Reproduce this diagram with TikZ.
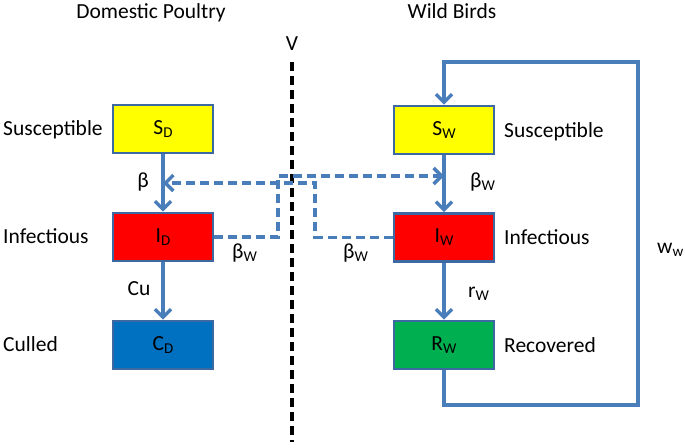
\documentclass[tikz,border=0pt]{standalone}
\usepackage{fontspec}
\setmainfont{Carlito}
\usetikzlibrary{arrows.meta}
\definecolor{lineblue}{HTML}{4A7EBB}
\definecolor{borderblue}{HTML}{3D69A3}
\definecolor{boxyellow}{HTML}{FFFF00}
\definecolor{boxred}{HTML}{FF0000}
\definecolor{boxblue}{HTML}{0070C0}
\definecolor{boxgreen}{HTML}{00B050}
\newcommand\subx[1]{\raisebox{-0.3ex}{\fontsize{15}{15}\selectfont #1}}
\tikzset{
  statebox/.style={draw=borderblue, line width=2.8pt, minimum width=100pt, minimum height=48pt, inner sep=0pt, font=\fontsize{21.5}{25}\selectfont},
  lbl/.style={anchor=base west, inner sep=0pt, font=\fontsize{21.5}{25}\selectfont},
  lblc/.style={anchor=base, inner sep=0pt, font=\fontsize{21.5}{25}\selectfont},
  flow/.style={draw=lineblue, line width=3.4pt, -{Straight Barb[length=8pt,width=16pt,line width=3.4pt]}},
  dflow/.style={draw=lineblue, line width=3.4pt, dash pattern=on 9pt off 5pt, -{Straight Barb[length=8pt,width=16pt,line width=3.4pt]}},
}
\begin{document}
\begin{tikzpicture}[x=1pt,y=-1pt]
\useasboundingbox (0,0) rectangle (685,447);
% headings
\node[lblc] (hdp) at (151,18.5) {Domestic Poultry};
\node[lblc] (hwb) at (452,18.5) {Wild Birds};
\node[lblc] (vlab) at (292,50) {V};
\coordinate (vtop) at (292,62);
\coordinate (vbot) at (292,442);
\draw[line width=3.4pt, dash pattern=on 9pt off 5pt] (vtop) -- (vbot);
% boxes
\node[statebox, fill=boxyellow] (SD) at (163,129) {S\subx{D}};
\node[statebox, fill=boxred] (ID) at (163,237) {I\subx{D}};
\node[statebox, fill=boxblue] (CD) at (163,345) {C\subx{D}};
\node[statebox, fill=boxyellow] (SW) at (444,130) {S\subx{W}};
\node[statebox, fill=boxred] (IW) at (444,237.5) {I\subx{W}};
\node[statebox, fill=boxgreen] (RW) at (444,345) {R\subx{W}};
% side labels
\node[lbl] (lsd) at (3,135) {Susceptible};
\node[lbl] (lid) at (3,243) {Infectious};
\node[lbl] (lcd) at (3,351) {Culled};
\node[lbl] (lsw) at (504,137) {Susceptible};
\node[lbl] (liw) at (504,244) {Infectious};
\node[lbl] (lrw) at (504,352) {Recovered};
% rate labels
\node[lblc] (beta) at (143,187) {β};
\node[lblc] (cu) at (139,295) {Cu};
\node[lbl] (bwr) at (470,187) {β\subx{W}};
\node[lbl] (rw) at (468,297) {r\subx{W}};
\node[lbl] (bwl) at (232,258) {β\subx{W}};
\node[lbl] (bwm) at (343,258) {β\subx{W}};
\node[lbl] (ww) at (657,253) {w\subx{w}};
% flows
\draw[flow] (SD) -- (ID);
\draw[flow] (ID) -- (CD);
\draw[flow] (SW) -- (IW);
\draw[flow] (IW) -- (RW);
% loop
\coordinate (lbr) at (638,405);
\coordinate (ltr) at (638,62);
\draw[flow] (RW.south) |- (lbr) -- (ltr) -| (SW.north);
% dashed cross flows
\coordinate (d1) at (278,176);
\coordinate (d2) at (315,183);
\draw[dflow] (ID.east) -| (d1) -- (d1 -| SW.south);
\draw[dflow] (IW.west) -| (d2) -- (d2 -| SD.south);
\end{tikzpicture}
\end{document}
